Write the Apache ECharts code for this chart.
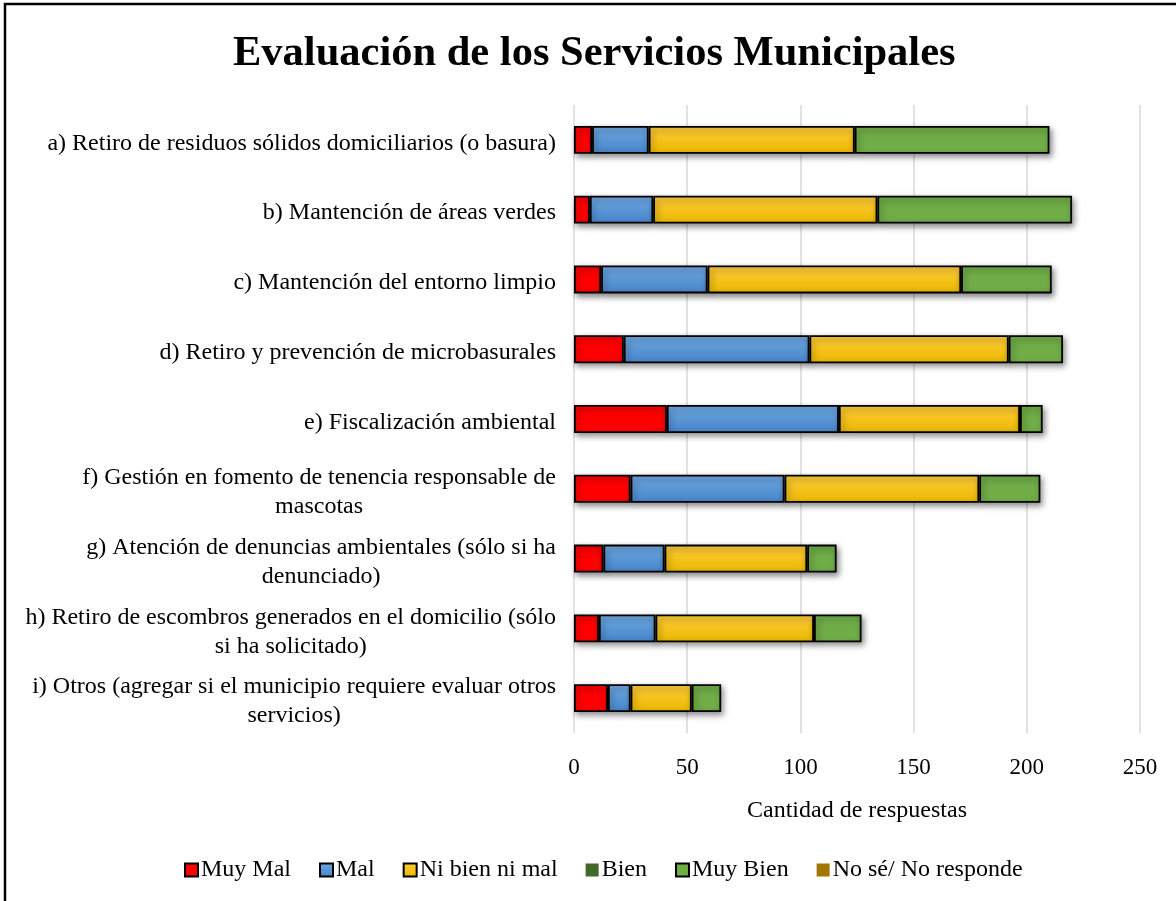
<!DOCTYPE html>
<html>
<head>
<meta charset="utf-8">
<title>Evaluación de los Servicios Municipales</title>
<script src="https://cdn.jsdelivr.net/npm/echarts@6/dist/echarts.min.js"></script>
<style>
  html, body { margin: 0; padding: 0; background: #fff; }
  #chart { width: 1176px; height: 901px; }
</style>
</head>
<body>
<div id="chart"></div>
<script>
// services (top to bottom)
const categories = [
  'a) Retiro de residuos sólidos domiciliarios (o basura)',
  'b) Mantención de áreas verdes',
  'c) Mantención del entorno limpio',
  'd) Retiro y prevención de microbasurales',
  'e) Fiscalización ambiental',
  'f) Gestión en fomento de tenencia responsable de\nmascotas',
  'g) Atención de denuncias ambientales (sólo si ha\ndenunciado)',
  'h) Retiro de escombros generados en el domicilio (sólo\nsi ha solicitado)',
  'i) Otros (agregar si el municipio requiere evaluar otros\nservicios)'
]

const muyMal = [8, 7, 12, 22, 41, 25, 13, 11, 15]
const mal = [25, 28, 47, 82, 76, 68, 27, 25, 10]
const niBienNiMal = [91, 99, 112, 88, 80, 86, 63, 70, 27]
const bien = [0, 0, 0, 0, 0, 0, 0, 0, 0]
const muyBien = [86, 86, 40, 24, 10, 27, 13, 21, 13]
const noSe = [0, 0, 0, 0, 0, 0, 0, 0, 0]

const xTicks = [0, 50, 100, 150, 200, 250]

const SERIF = '"Liberation Serif", "Times New Roman", serif'

const chart = echarts.init(document.getElementById('chart'))

const grad = (top, bottom) => new echarts.graphic.LinearGradient(0, 0, 0, 1, [
  { offset: 0, color: top },
  { offset: 1, color: bottom }
])

const barStyle = (color) => ({
  color,
  borderColor: '#000',
  borderWidth: 1.8,
  shadowColor: 'rgba(0, 0, 0, 0.45)',
  shadowBlur: 6,
  shadowOffsetX: 2,
  shadowOffsetY: 3
})

const makeSeries = (name, data, itemStyle) => ({
  name,
  type: 'bar',
  stack: 'total',
  data,
  barWidth: '40%',
  itemStyle,
  emphasis: { disabled: true }
})

chart.setOption({
  animation: false,
  backgroundColor: '#fff',
  title: {
    text: 'Evaluación de los Servicios Municipales',
    left: 233,
    top: 33,
    padding: 0,
    textStyle: {
      fontFamily: SERIF,
      fontSize: 42.5,
      fontWeight: 'bold',
      color: '#000'
    }
  },
  graphic: [{
    type: 'rect',
    shape: { x: 5, y: 4, width: 1300, height: 1000 },
    style: { fill: 'none', stroke: '#000', lineWidth: 2.5 },
    silent: true
  }],
  legend: {
    left: 179,
    top: 853,
    itemWidth: 13,
    itemHeight: 13,
    itemGap: 28,
    icon: 'rect',
    textStyle: {
      fontFamily: SERIF,
      fontSize: 24,
      color: '#000',
      padding: [0, 0, 0, -2]
    },
    data: ['Muy Mal', 'Mal', 'Ni bien ni mal', 'Bien', 'Muy Bien', 'No sé/ No responde']
  },
  grid: {
    left: 574,
    right: 36,
    top: 105,
    bottom: 168
  },
  xAxis: {
    type: 'value',
    min: xTicks[0],
    max: xTicks[xTicks.length - 1],
    interval: xTicks[1] - xTicks[0],
    name: 'Cantidad de respuestas',
    nameLocation: 'middle',
    nameGap: 66,
    nameTextStyle: {
      fontFamily: SERIF,
      fontSize: 24,
      color: '#000'
    },
    axisLine: { show: false },
    axisTick: { show: false },
    axisLabel: {
      fontFamily: SERIF,
      fontSize: 23,
      color: '#000',
      margin: 23
    },
    splitLine: { lineStyle: { color: '#d9d9d9', width: 1.5 } }
  },
  yAxis: {
    type: 'category',
    inverse: true,
    data: categories,
    axisLine: { show: false },
    axisTick: { show: false },
    axisLabel: {
      margin: 18,
      padding: [7, 0, 0, 0],
      formatter: (v) => v.split('\n').map(l => '{c|' + l + '}').join('\n'),
      rich: {
        c: {
          align: 'center',
          fontFamily: SERIF,
          fontSize: 24,
          lineHeight: 29,
          color: '#000'
        }
      }
    }
  },
  series: [
    makeSeries('Muy Mal', muyMal, barStyle('#ff0000')),
    makeSeries('Mal', mal, barStyle(grad('#6fa9e2', '#4684c9'))),
    makeSeries('Ni bien ni mal', niBienNiMal, barStyle(grad('#ffcd3a', '#ebb700'))),
    makeSeries('Bien', bien, { color: '#41692a', borderWidth: 0 }),
    makeSeries('Muy Bien', muyBien, barStyle('#70ad47')),
    makeSeries('No sé/ No responde', noSe, { color: '#a27600', borderWidth: 0 })
  ]
})

window.addEventListener('resize', () => chart.resize())
</script>
</body>
</html>
